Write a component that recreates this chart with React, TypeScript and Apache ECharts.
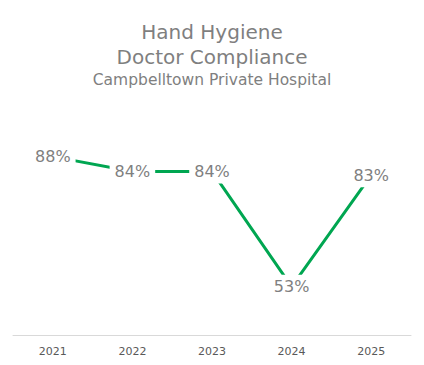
import React, { useEffect, useRef } from "react";
import * as echarts from "echarts";

const categories = ["2021", "2022", "2023", "2024", "2025"];
const compliance = [88, 84, 84, 53, 83];
const titleLines = ["Hand Hygiene", "Doctor Compliance", "Campbelltown Private Hospital"];

export default function App() {
  const ref = useRef<HTMLDivElement>(null);
  useEffect(() => {
    if (!ref.current) return;
    const chart = echarts.init(ref.current, undefined, { renderer: "svg" });
    const font = "'DejaVu Sans', sans-serif";
    chart.setOption({
      animation: false,
      backgroundColor: "#ffffff",
      graphic: [
        {
          type: "text",
          x: 212,
          y: 32,
          style: { text: titleLines[0], fontSize: 20, fontFamily: font, fill: "#7f7f7f", align: "center", verticalAlign: "middle" },
        },
        {
          type: "text",
          x: 212,
          y: 57,
          style: { text: titleLines[1], fontSize: 20, fontFamily: font, fill: "#7f7f7f", align: "center", verticalAlign: "middle" },
        },
        {
          type: "text",
          x: 212,
          y: 80,
          style: { text: titleLines[2], fontSize: 15.5, fontFamily: font, fill: "#7f7f7f", align: "center", verticalAlign: "middle" },
        },
      ],
      grid: { left: 13, right: 13, top: 112, bottom: 30, containLabel: false },
      xAxis: {
        type: "category",
        data: categories,
        boundaryGap: true,
        axisLine: { show: true, lineStyle: { color: "#d9d9d9", width: 1 } },
        axisTick: { show: false },
        axisLabel: { color: "#595959", fontSize: 11, fontFamily: font, margin: 11 },
      },
      yAxis: {
        type: "value",
        min: 40,
        max: 100,
        show: false,
        splitLine: { show: false },
      },
      series: [
        {
          type: "line",
          data: compliance,
          symbol: "circle",
          symbolSize: 1,
          showSymbol: true,
          itemStyle: { color: "rgba(0,0,0,0)" },
          lineStyle: { color: "#00a651", width: 3 },
          label: {
            show: true,
            position: "inside",
            formatter: "{c}%",
            fontSize: 16,
            fontFamily: font,
            color: "#7f7f7f",
            backgroundColor: "#ffffff",
            padding: [4, 5],
          },
        },
      ],
    });
    return () => chart.dispose();
  }, []);
  return <div ref={ref} style={{ width: 424, height: 365, position: "absolute", left: 0, top: 0 }} />;
}
